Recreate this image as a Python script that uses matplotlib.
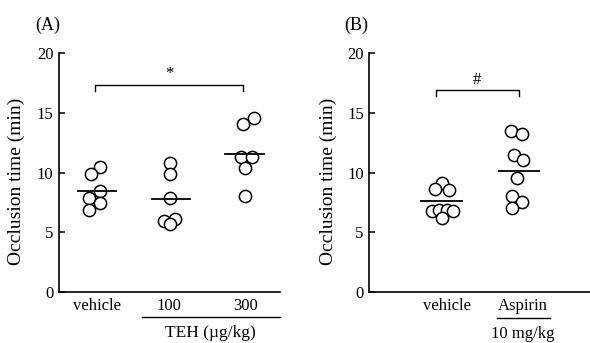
import matplotlib
matplotlib.use('Agg')
import matplotlib.pyplot as plt
from matplotlib.transforms import blended_transform_factory

plt.rcParams['font.family'] = ['Liberation Serif', 'DejaVu Serif']

# panel A: TEH
A_LABELS = ['vehicle', '100', '300']
A_VALUES = [
    [10.49, 9.85, 8.45, 7.90, 7.47, 6.86],
    [10.77, 9.85, 7.84, 6.14, 5.94, 5.69],
    [14.62, 14.06, 11.27, 11.27, 10.35, 8.03],
]
A_JITTER = [
    [0.04, -0.08, 0.04, -0.11, 0.04, -0.11],
    [-0.02, -0.02, -0.02, 0.06, -0.10, -0.02],
    [0.13, -0.02, -0.05, 0.10, 0.01, 0.01],
]
A_MEANS = [8.48, 7.78, 11.60]

# panel B: aspirin
B_LABELS = ['vehicle', 'Aspirin']
B_VALUES = [
    [9.15, 8.59, 8.54, 6.81, 6.86, 6.86, 6.81, 6.17],
    [13.47, 13.28, 11.52, 11.05, 9.57, 8.03, 7.56, 7.06],
]
B_JITTER = [
    [0.005, -0.09, 0.09, -0.12, -0.03, 0.07, 0.15, 0.005],
    [-0.11, 0.035, -0.07, 0.05, -0.03, -0.09, 0.035, -0.09],
]
B_MEANS = [7.60, 10.15]

YTICKS = [0, 5, 10, 15, 20]


def draw_panel(ax, values, jitter, means, labels, xlim, tickpos):
    for i, (vals, jit) in enumerate(zip(values, jitter)):
        xs = [i + j for j in jit]
        ax.plot(xs, vals, 'o', ms=8.8, mfc='white', mec='black', mew=1.1,
                ls='none', zorder=3)
        ax.plot([i - 0.26, i + 0.26], [means[i], means[i]], color='black',
                lw=1.3, zorder=4)
    ax.set_xlim(*xlim)
    ax.set_ylim(0, 20)
    ax.set_yticks(YTICKS)
    ax.set_xticks(tickpos)
    ax.set_xticklabels(labels)
    ax.tick_params(axis='y', direction='in', length=4.5, width=1.1, pad=4,
                   labelsize=12)
    ax.tick_params(axis='x', length=0, pad=4.5, labelsize=12)
    for s in ['top', 'right']:
        ax.spines[s].set_visible(False)
    for s in ['left', 'bottom']:
        ax.spines[s].set_linewidth(1.2)
    ax.set_ylabel('Occlusion time (min)', fontsize=14)


def bracket(ax, x0, x1, y, drop, text):
    ax.plot([x0, x0, x1, x1], [y - drop, y, y, y - drop], color='black',
            lw=1.0, clip_on=False)
    ax.text((x0 + x1) / 2, y + 0.2, text, ha='center', va='bottom',
            fontsize=12)


fig = plt.figure(figsize=(5.9, 3.43), dpi=100)
ax_a = fig.add_axes([0.100, 0.1487, 0.3746, 0.6959])
ax_b = fig.add_axes([0.626, 0.1487, 0.374, 0.6959])

draw_panel(ax_a, A_VALUES, A_JITTER, A_MEANS, A_LABELS, (-0.52, 2.48),
           [-0.01, 0.97, 2.01])
draw_panel(ax_b, B_VALUES, B_JITTER, B_MEANS, B_LABELS, (-0.93, 1.91),
           [0.07, 1.05])
ax_a.yaxis.set_label_coords(-0.154, 0.465)
ax_b.yaxis.set_label_coords(-0.146, 0.465)

bracket(ax_a, -0.03, 1.98, 17.38, 0.53, '*')
bracket(ax_b, -0.07, 0.99, 16.9, 0.47, '#')

# group labels under the x axis
tr_a = blended_transform_factory(ax_a.transData, fig.transFigure)
ax_a.plot([0.60, 2.48], [1 - 316.7 / 343] * 2, color='black', lw=1.0,
          transform=tr_a, clip_on=False)
ax_a.text(1.53, 1 - 333 / 343, 'TEH (\u00b5g/kg)', transform=tr_a,
          ha='center', va='center', fontsize=12.5)

tr_b = blended_transform_factory(ax_b.transData, fig.transFigure)
ax_b.plot([0.71, 1.40], [1 - 318.3 / 343] * 2, color='black', lw=1.0,
          transform=tr_b, clip_on=False)
ax_b.text(1.05, 1 - 333.5 / 343, '10 mg/kg', transform=tr_b,
          ha='center', va='center', fontsize=12)

fig.text(48 / 590, 1 - 25 / 343, '(A)', ha='center', va='center', fontsize=13)
fig.text(356.7 / 590, 1 - 25 / 343, '(B)', ha='center', va='center', fontsize=13)

fig.savefig('out.png', dpi=100)
